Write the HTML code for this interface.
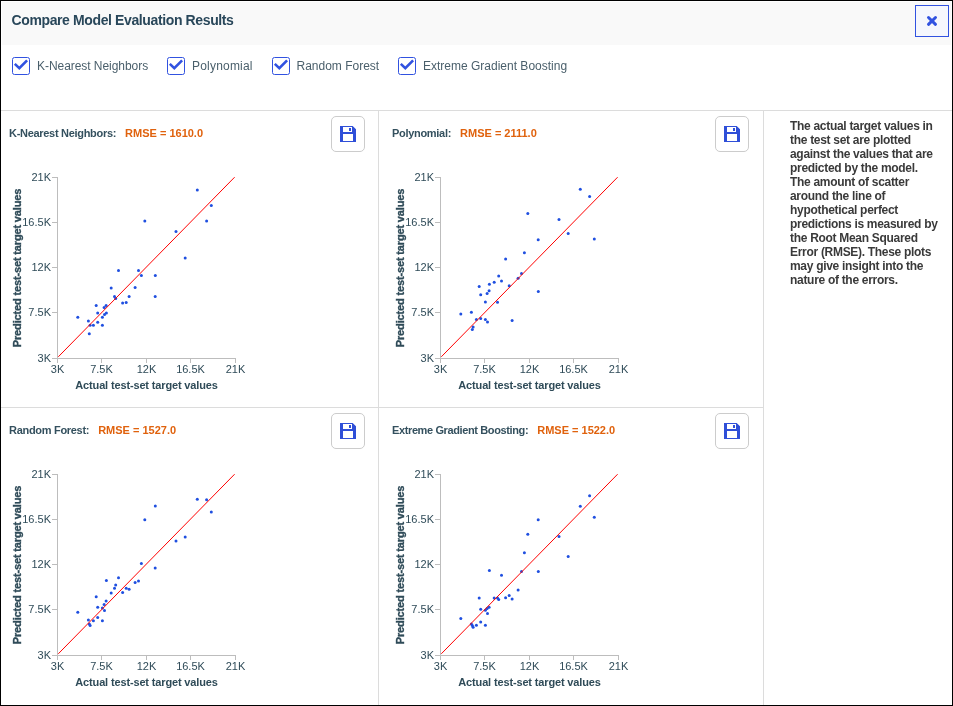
<!DOCTYPE html>
<html><head><meta charset="utf-8"><title>Compare Model Evaluation Results</title>
<style>
html,body{margin:0;padding:0;background:#fff;}
*{-webkit-font-smoothing:antialiased;}
body{will-change:transform;}
body{width:953px;height:706px;position:relative;overflow:hidden;font-family:"Liberation Sans",sans-serif;}
.frame{position:absolute;left:0;top:0;width:953px;height:706px;box-sizing:border-box;border:1px solid #000;}
.hdr{position:absolute;left:2px;top:2px;width:949px;height:43px;background:#f9f9f9;}
.ttl{position:absolute;left:11.5px;top:11px;font-size:14px;font-weight:bold;color:#29475a;letter-spacing:-0.38px;line-height:18px;white-space:nowrap;}
.close{position:absolute;left:915px;top:5px;width:34px;height:32px;box-sizing:border-box;border:1px solid #3152e0;background:#f5f7fd;}
.cb{position:absolute;top:57px;width:18px;height:18px;}
.cb svg{display:block}
.cbl{position:absolute;top:58px;font-size:12px;color:#4a5f6b;line-height:16px;white-space:nowrap;}
.hl{position:absolute;background:#dcdcdc;}
.save{position:absolute;width:34px;height:36px;box-sizing:border-box;border:1px solid #cccccc;border-radius:5px;background:#fff;}
.save svg{position:absolute;left:8px;top:9px;display:block}
.ctitle{position:absolute;font-size:11px;font-weight:bold;line-height:14px;white-space:nowrap;}
.cn{color:#34505e;letter-spacing:-0.3px;}
.rm{color:#e0620d;margin-left:9px;letter-spacing:0px;}
.charts{position:absolute;left:0;top:0;}
.tk{font-family:"Liberation Sans",sans-serif;font-size:11px;fill:#2f4b58;}
.ylab{stroke:#2f4b58;stroke-width:0.35px;}
.al{font-family:"Liberation Sans",sans-serif;font-size:11px;font-weight:bold;fill:#2f4b58;letter-spacing:-0.15px;}
.desc{position:absolute;left:790px;top:119px;font-size:12px;font-weight:bold;color:#3a3a3a;line-height:14px;letter-spacing:-0.3px;white-space:nowrap;}
</style></head><body>
<div class="frame"></div>
<div class="hdr"></div>
<div class="ttl">Compare Model Evaluation Results</div>
<div class="close"><svg width="32" height="30" viewBox="0 0 32 30" style="display:block"><path d="M12.5 11.5 L19.5 18.3 M19.5 11.5 L12.5 18.3" stroke="#3152e0" stroke-width="3" stroke-linecap="round"/></svg></div>
<div class="cb" style="left:12px"><svg width="18" height="18" viewBox="0 0 18 18"><rect x="0.5" y="0.5" width="17" height="17" rx="2" fill="#fff" stroke="#3152e0"/><path d="M2.8 6.9 L7.3 11.1 L15.1 3.4" fill="none" stroke="#3152e0" stroke-width="2.6"/></svg></div><div class="cbl" style="left:37px;letter-spacing:-0.05px">K-Nearest Neighbors</div>
<div class="cb" style="left:167px"><svg width="18" height="18" viewBox="0 0 18 18"><rect x="0.5" y="0.5" width="17" height="17" rx="2" fill="#fff" stroke="#3152e0"/><path d="M2.8 6.9 L7.3 11.1 L15.1 3.4" fill="none" stroke="#3152e0" stroke-width="2.6"/></svg></div><div class="cbl" style="left:192px;letter-spacing:0.2px">Polynomial</div>
<div class="cb" style="left:272px"><svg width="18" height="18" viewBox="0 0 18 18"><rect x="0.5" y="0.5" width="17" height="17" rx="2" fill="#fff" stroke="#3152e0"/><path d="M2.8 6.9 L7.3 11.1 L15.1 3.4" fill="none" stroke="#3152e0" stroke-width="2.6"/></svg></div><div class="cbl" style="left:296.5px;letter-spacing:0px">Random Forest</div>
<div class="cb" style="left:398px"><svg width="18" height="18" viewBox="0 0 18 18"><rect x="0.5" y="0.5" width="17" height="17" rx="2" fill="#fff" stroke="#3152e0"/><path d="M2.8 6.9 L7.3 11.1 L15.1 3.4" fill="none" stroke="#3152e0" stroke-width="2.6"/></svg></div><div class="cbl" style="left:423px;letter-spacing:0px">Extreme Gradient Boosting</div>
<div class="hl" style="left:1px;top:110px;width:951px;height:1px"></div>
<div class="hl" style="left:1px;top:407px;width:763px;height:1px"></div>
<div class="hl" style="left:378px;top:110px;width:1px;height:595px"></div>
<div class="hl" style="left:763px;top:110px;width:1px;height:595px"></div>
<div class="ctitle" style="left:9px;top:126px"><span class="cn" style="letter-spacing:-0.3px">K-Nearest Neighbors:</span><span class="rm">RMSE = 1610.0</span></div>
<div class="ctitle" style="left:392px;top:126px"><span class="cn" style="letter-spacing:-0.3px">Polynomial:</span><span class="rm">RMSE = 2111.0</span></div>
<div class="ctitle" style="left:9px;top:423px"><span class="cn" style="letter-spacing:-0.3px">Random Forest:</span><span class="rm">RMSE = 1527.0</span></div>
<div class="ctitle" style="left:392px;top:423px"><span class="cn" style="letter-spacing:-0.38px">Extreme Gradient Boosting:</span><span class="rm">RMSE = 1522.0</span></div>
<div class="save" style="left:331px;top:116px"><svg width="16" height="16" viewBox="0 0 16 16"><path fill="#2f4fd8" fill-rule="evenodd" d="M0 0 H12.7 L16 3.2 V16 H0 Z M3 1 V6 H12 V1 Z M9 2 V5 H11 V2 Z M3 8 V15 H13 V8 Z"/></svg></div>
<div class="save" style="left:715px;top:116px"><svg width="16" height="16" viewBox="0 0 16 16"><path fill="#2f4fd8" fill-rule="evenodd" d="M0 0 H12.7 L16 3.2 V16 H0 Z M3 1 V6 H12 V1 Z M9 2 V5 H11 V2 Z M3 8 V15 H13 V8 Z"/></svg></div>
<div class="save" style="left:331px;top:413px"><svg width="16" height="16" viewBox="0 0 16 16"><path fill="#2f4fd8" fill-rule="evenodd" d="M0 0 H12.7 L16 3.2 V16 H0 Z M3 1 V6 H12 V1 Z M9 2 V5 H11 V2 Z M3 8 V15 H13 V8 Z"/></svg></div>
<div class="save" style="left:715px;top:413px"><svg width="16" height="16" viewBox="0 0 16 16"><path fill="#2f4fd8" fill-rule="evenodd" d="M0 0 H12.7 L16 3.2 V16 H0 Z M3 1 V6 H12 V1 Z M9 2 V5 H11 V2 Z M3 8 V15 H13 V8 Z"/></svg></div>
<svg class="charts" width="953" height="706" viewBox="0 0 953 706"><g fill="#1f4fe0">
<g transform="translate(0,0)">
<path d="M57.5 177 V358.5 H235.5 V363 M52 177.5 H57.5 M235.5 358 V363" fill="none" stroke="#bdbdbd" stroke-width="1"/>
<path d="M52 222.5 H57.5 M52 267.5 H57.5 M52 312.5 H57.5 M52 358.5 H57.5 M57.5 358.5 V363 M101.5 358.5 V363 M146.5 358.5 V363 M190.5 358.5 V363 " fill="none" stroke="#bdbdbd" stroke-width="1"/>
<text x="51" y="362.1" text-anchor="end" class="tk">3K</text>
<text x="57.5" y="373" text-anchor="middle" class="tk">3K</text>
<text x="51" y="316.1" text-anchor="end" class="tk">7.5K</text>
<text x="101.5" y="373" text-anchor="middle" class="tk">7.5K</text>
<text x="51" y="271.1" text-anchor="end" class="tk">12K</text>
<text x="146.5" y="373" text-anchor="middle" class="tk">12K</text>
<text x="51" y="226.1" text-anchor="end" class="tk">16.5K</text>
<text x="190.5" y="373" text-anchor="middle" class="tk">16.5K</text>
<text x="51" y="181.1" text-anchor="end" class="tk">21K</text>
<text x="235.5" y="373" text-anchor="middle" class="tk">21K</text>
<text x="146.5" y="389" text-anchor="middle" class="al">Actual test-set target values</text>
<text transform="translate(21.3 268) rotate(-90)" x="0" y="0" text-anchor="middle" class="al ylab">Predicted test-set target values</text>
<circle cx="77.8" cy="317.2" r="1.5"/>
<circle cx="88.4" cy="320.9" r="1.5"/>
<circle cx="89.3" cy="333.8" r="1.5"/>
<circle cx="90.1" cy="325.2" r="1.5"/>
<circle cx="93.4" cy="325.2" r="1.5"/>
<circle cx="96.2" cy="305.6" r="1.5"/>
<circle cx="97.7" cy="313.1" r="1.5"/>
<circle cx="97.7" cy="322.3" r="1.5"/>
<circle cx="102.4" cy="317.2" r="1.5"/>
<circle cx="102.4" cy="325.2" r="1.5"/>
<circle cx="104.1" cy="307.5" r="1.5"/>
<circle cx="104.5" cy="314.4" r="1.5"/>
<circle cx="106.1" cy="305.5" r="1.5"/>
<circle cx="106.4" cy="313.1" r="1.5"/>
<circle cx="111.2" cy="287.9" r="1.5"/>
<circle cx="114.5" cy="296.4" r="1.5"/>
<circle cx="115.7" cy="298.5" r="1.5"/>
<circle cx="118.5" cy="270.6" r="1.5"/>
<circle cx="122.6" cy="303.1" r="1.5"/>
<circle cx="126.2" cy="302.6" r="1.5"/>
<circle cx="129.1" cy="296.4" r="1.5"/>
<circle cx="135.1" cy="287.6" r="1.5"/>
<circle cx="138.5" cy="270.6" r="1.5"/>
<circle cx="141.4" cy="275.4" r="1.5"/>
<circle cx="144.8" cy="220.9" r="1.5"/>
<circle cx="155.2" cy="296.5" r="1.5"/>
<circle cx="155.3" cy="275.4" r="1.5"/>
<circle cx="176.0" cy="231.4" r="1.5"/>
<circle cx="185.2" cy="258.1" r="1.5"/>
<circle cx="197.3" cy="190.1" r="1.5"/>
<circle cx="206.6" cy="220.9" r="1.5"/>
<circle cx="211.3" cy="205.6" r="1.5"/>
<line x1="58.3" y1="356.8" x2="234.6" y2="177.2" stroke="#ff0000" stroke-width="1"/>
</g>
<g transform="translate(383,0)">
<path d="M57.5 177 V358.5 H235.5 V363 M52 177.5 H57.5 M235.5 358 V363" fill="none" stroke="#bdbdbd" stroke-width="1"/>
<path d="M52 222.5 H57.5 M52 267.5 H57.5 M52 312.5 H57.5 M52 358.5 H57.5 M57.5 358.5 V363 M101.5 358.5 V363 M146.5 358.5 V363 M190.5 358.5 V363 " fill="none" stroke="#bdbdbd" stroke-width="1"/>
<text x="51" y="362.1" text-anchor="end" class="tk">3K</text>
<text x="57.5" y="373" text-anchor="middle" class="tk">3K</text>
<text x="51" y="316.1" text-anchor="end" class="tk">7.5K</text>
<text x="101.5" y="373" text-anchor="middle" class="tk">7.5K</text>
<text x="51" y="271.1" text-anchor="end" class="tk">12K</text>
<text x="146.5" y="373" text-anchor="middle" class="tk">12K</text>
<text x="51" y="226.1" text-anchor="end" class="tk">16.5K</text>
<text x="190.5" y="373" text-anchor="middle" class="tk">16.5K</text>
<text x="51" y="181.1" text-anchor="end" class="tk">21K</text>
<text x="235.5" y="373" text-anchor="middle" class="tk">21K</text>
<text x="146.5" y="389" text-anchor="middle" class="al">Actual test-set target values</text>
<text transform="translate(21.3 268) rotate(-90)" x="0" y="0" text-anchor="middle" class="al ylab">Predicted test-set target values</text>
<circle cx="77.8" cy="314.1" r="1.5"/>
<circle cx="88.4" cy="312.2" r="1.5"/>
<circle cx="89.3" cy="329.6" r="1.5"/>
<circle cx="90.1" cy="327.1" r="1.5"/>
<circle cx="93.4" cy="319.5" r="1.5"/>
<circle cx="96.2" cy="286.6" r="1.5"/>
<circle cx="97.7" cy="294.7" r="1.5"/>
<circle cx="97.7" cy="318.6" r="1.5"/>
<circle cx="102.4" cy="302.0" r="1.5"/>
<circle cx="102.4" cy="319.5" r="1.5"/>
<circle cx="104.1" cy="293.5" r="1.5"/>
<circle cx="104.5" cy="321.9" r="1.5"/>
<circle cx="106.1" cy="290.7" r="1.5"/>
<circle cx="106.4" cy="284.3" r="1.5"/>
<circle cx="111.2" cy="282.3" r="1.5"/>
<circle cx="114.5" cy="302.3" r="1.5"/>
<circle cx="115.7" cy="276.0" r="1.5"/>
<circle cx="118.5" cy="281.1" r="1.5"/>
<circle cx="122.6" cy="258.9" r="1.5"/>
<circle cx="126.2" cy="285.8" r="1.5"/>
<circle cx="129.1" cy="320.5" r="1.5"/>
<circle cx="135.1" cy="278.3" r="1.5"/>
<circle cx="138.5" cy="273.6" r="1.5"/>
<circle cx="141.4" cy="252.8" r="1.5"/>
<circle cx="144.8" cy="213.5" r="1.5"/>
<circle cx="155.2" cy="239.8" r="1.5"/>
<circle cx="155.3" cy="291.4" r="1.5"/>
<circle cx="176.0" cy="219.4" r="1.5"/>
<circle cx="185.2" cy="233.4" r="1.5"/>
<circle cx="197.3" cy="189.2" r="1.5"/>
<circle cx="206.6" cy="196.4" r="1.5"/>
<circle cx="211.3" cy="239.1" r="1.5"/>
<line x1="58.3" y1="356.8" x2="234.6" y2="177.2" stroke="#ff0000" stroke-width="1"/>
</g>
<g transform="translate(0,297)">
<path d="M57.5 177 V358.5 H235.5 V363 M52 177.5 H57.5 M235.5 358 V363" fill="none" stroke="#bdbdbd" stroke-width="1"/>
<path d="M52 222.5 H57.5 M52 267.5 H57.5 M52 312.5 H57.5 M52 358.5 H57.5 M57.5 358.5 V363 M101.5 358.5 V363 M146.5 358.5 V363 M190.5 358.5 V363 " fill="none" stroke="#bdbdbd" stroke-width="1"/>
<text x="51" y="362.1" text-anchor="end" class="tk">3K</text>
<text x="57.5" y="373" text-anchor="middle" class="tk">3K</text>
<text x="51" y="316.1" text-anchor="end" class="tk">7.5K</text>
<text x="101.5" y="373" text-anchor="middle" class="tk">7.5K</text>
<text x="51" y="271.1" text-anchor="end" class="tk">12K</text>
<text x="146.5" y="373" text-anchor="middle" class="tk">12K</text>
<text x="51" y="226.1" text-anchor="end" class="tk">16.5K</text>
<text x="190.5" y="373" text-anchor="middle" class="tk">16.5K</text>
<text x="51" y="181.1" text-anchor="end" class="tk">21K</text>
<text x="235.5" y="373" text-anchor="middle" class="tk">21K</text>
<text x="146.5" y="389" text-anchor="middle" class="al">Actual test-set target values</text>
<text transform="translate(21.3 268) rotate(-90)" x="0" y="0" text-anchor="middle" class="al ylab">Predicted test-set target values</text>
<circle cx="77.8" cy="315.3" r="1.5"/>
<circle cx="88.4" cy="323.0" r="1.5"/>
<circle cx="89.3" cy="327.0" r="1.5"/>
<circle cx="90.1" cy="328.6" r="1.5"/>
<circle cx="93.4" cy="323.7" r="1.5"/>
<circle cx="96.2" cy="299.8" r="1.5"/>
<circle cx="97.7" cy="310.2" r="1.5"/>
<circle cx="97.7" cy="320.4" r="1.5"/>
<circle cx="102.4" cy="311.1" r="1.5"/>
<circle cx="102.4" cy="323.7" r="1.5"/>
<circle cx="104.1" cy="307.4" r="1.5"/>
<circle cx="104.5" cy="313.4" r="1.5"/>
<circle cx="106.1" cy="304.1" r="1.5"/>
<circle cx="106.4" cy="283.4" r="1.5"/>
<circle cx="111.2" cy="296.1" r="1.5"/>
<circle cx="114.5" cy="291.3" r="1.5"/>
<circle cx="115.7" cy="288.0" r="1.5"/>
<circle cx="118.5" cy="280.8" r="1.5"/>
<circle cx="122.6" cy="295.4" r="1.5"/>
<circle cx="126.2" cy="291.3" r="1.5"/>
<circle cx="129.1" cy="292.2" r="1.5"/>
<circle cx="135.1" cy="285.6" r="1.5"/>
<circle cx="138.5" cy="284.0" r="1.5"/>
<circle cx="141.4" cy="266.5" r="1.5"/>
<circle cx="144.8" cy="222.7" r="1.5"/>
<circle cx="155.2" cy="271.1" r="1.5"/>
<circle cx="155.3" cy="208.9" r="1.5"/>
<circle cx="176.0" cy="244.1" r="1.5"/>
<circle cx="185.2" cy="240.0" r="1.5"/>
<circle cx="197.3" cy="202.3" r="1.5"/>
<circle cx="206.6" cy="202.8" r="1.5"/>
<circle cx="211.3" cy="215.0" r="1.5"/>
<line x1="58.3" y1="356.8" x2="234.6" y2="177.2" stroke="#ff0000" stroke-width="1"/>
</g>
<g transform="translate(383,297)">
<path d="M57.5 177 V358.5 H235.5 V363 M52 177.5 H57.5 M235.5 358 V363" fill="none" stroke="#bdbdbd" stroke-width="1"/>
<path d="M52 222.5 H57.5 M52 267.5 H57.5 M52 312.5 H57.5 M52 358.5 H57.5 M57.5 358.5 V363 M101.5 358.5 V363 M146.5 358.5 V363 M190.5 358.5 V363 " fill="none" stroke="#bdbdbd" stroke-width="1"/>
<text x="51" y="362.1" text-anchor="end" class="tk">3K</text>
<text x="57.5" y="373" text-anchor="middle" class="tk">3K</text>
<text x="51" y="316.1" text-anchor="end" class="tk">7.5K</text>
<text x="101.5" y="373" text-anchor="middle" class="tk">7.5K</text>
<text x="51" y="271.1" text-anchor="end" class="tk">12K</text>
<text x="146.5" y="373" text-anchor="middle" class="tk">12K</text>
<text x="51" y="226.1" text-anchor="end" class="tk">16.5K</text>
<text x="190.5" y="373" text-anchor="middle" class="tk">16.5K</text>
<text x="51" y="181.1" text-anchor="end" class="tk">21K</text>
<text x="235.5" y="373" text-anchor="middle" class="tk">21K</text>
<text x="146.5" y="389" text-anchor="middle" class="al">Actual test-set target values</text>
<text transform="translate(21.3 268) rotate(-90)" x="0" y="0" text-anchor="middle" class="al ylab">Predicted test-set target values</text>
<circle cx="77.8" cy="321.4" r="1.5"/>
<circle cx="88.4" cy="327.0" r="1.5"/>
<circle cx="89.3" cy="328.6" r="1.5"/>
<circle cx="90.1" cy="330.2" r="1.5"/>
<circle cx="93.4" cy="328.3" r="1.5"/>
<circle cx="96.2" cy="301.0" r="1.5"/>
<circle cx="97.7" cy="312.3" r="1.5"/>
<circle cx="97.7" cy="325.1" r="1.5"/>
<circle cx="102.4" cy="313.3" r="1.5"/>
<circle cx="102.4" cy="328.3" r="1.5"/>
<circle cx="104.1" cy="311.4" r="1.5"/>
<circle cx="104.5" cy="316.5" r="1.5"/>
<circle cx="106.1" cy="310.2" r="1.5"/>
<circle cx="106.4" cy="273.6" r="1.5"/>
<circle cx="111.2" cy="301.0" r="1.5"/>
<circle cx="114.5" cy="301.0" r="1.5"/>
<circle cx="115.7" cy="302.6" r="1.5"/>
<circle cx="118.5" cy="278.3" r="1.5"/>
<circle cx="122.6" cy="300.7" r="1.5"/>
<circle cx="126.2" cy="298.6" r="1.5"/>
<circle cx="129.1" cy="302.1" r="1.5"/>
<circle cx="135.1" cy="292.9" r="1.5"/>
<circle cx="138.5" cy="274.5" r="1.5"/>
<circle cx="141.4" cy="255.8" r="1.5"/>
<circle cx="144.8" cy="237.2" r="1.5"/>
<circle cx="155.2" cy="222.7" r="1.5"/>
<circle cx="155.3" cy="274.6" r="1.5"/>
<circle cx="176.0" cy="239.5" r="1.5"/>
<circle cx="185.2" cy="259.5" r="1.5"/>
<circle cx="197.3" cy="209.3" r="1.5"/>
<circle cx="206.6" cy="198.8" r="1.5"/>
<circle cx="211.3" cy="220.3" r="1.5"/>
<line x1="58.3" y1="356.8" x2="234.6" y2="177.2" stroke="#ff0000" stroke-width="1"/>
</g>
</g></svg>
<div class="desc">The actual target values in<br>the test set are plotted<br>against the values that are<br>predicted by the model.<br>The amount of scatter<br>around the line of<br>hypothetical perfect<br>predictions is measured by<br>the Root Mean Squared<br>Error (RMSE). These plots<br>may give insight into the<br>nature of the errors.</div>
</body></html>
